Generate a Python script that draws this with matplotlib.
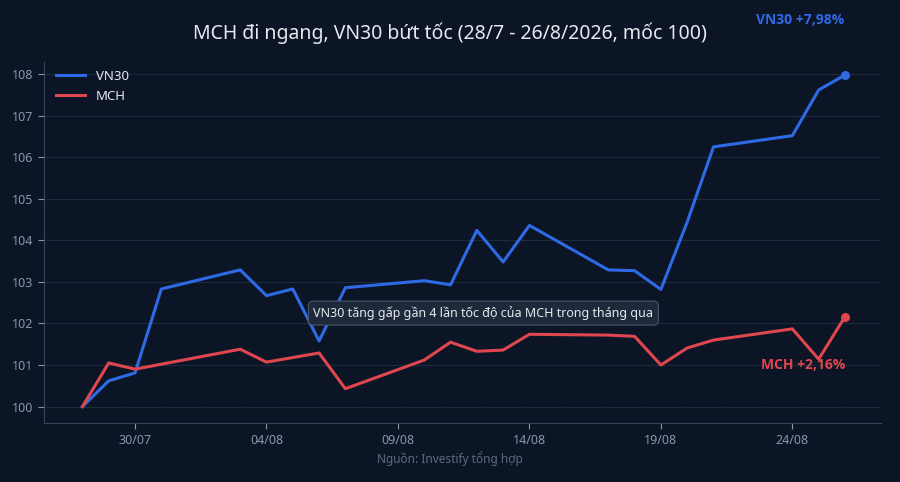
import matplotlib
matplotlib.use("Agg")
import matplotlib.pyplot as plt
import pandas as pd

plt.rcParams['font.family'] = ['Noto Sans', 'DejaVu Sans']

vn_dates = ["2026-07-28","2026-07-29","2026-07-30","2026-07-31","2026-08-03","2026-08-04","2026-08-05",
            "2026-08-06","2026-08-07","2026-08-10","2026-08-11","2026-08-12","2026-08-13","2026-08-14",
            "2026-08-17","2026-08-18","2026-08-19","2026-08-20","2026-08-21","2026-08-24","2026-08-25","2026-08-26"]
vn30 = [100, 100.62, 100.81, 102.83, 103.29, 102.67, 102.83, 101.58, 102.86, 103.03, 102.93, 104.24,
        103.48, 104.36, 103.29, 103.27, 102.82, 104.44, 106.25, 106.52, 107.62, 107.98]
mch_dates = ["2026-07-28","2026-07-29","2026-07-30","2026-08-03","2026-08-04","2026-08-06","2026-08-07",
             "2026-08-10","2026-08-11","2026-08-12","2026-08-13","2026-08-14","2026-08-17","2026-08-18",
             "2026-08-19","2026-08-20","2026-08-21","2026-08-24","2026-08-25","2026-08-26"]
mch = [100, 101.05, 100.9, 101.38, 101.07, 101.29, 100.43, 101.12, 101.55, 101.33, 101.36, 101.74,
       101.72, 101.69, 101.0, 101.41, 101.6, 101.87, 101.14, 102.16]
tick_dates = ["2026-07-30","2026-08-04","2026-08-09","2026-08-14","2026-08-19","2026-08-24"]
tick_labels = ["30/07","04/08","09/08","14/08","19/08","24/08"]

vx = pd.to_datetime(vn_dates); mx = pd.to_datetime(mch_dates)
bg = "#0b1526"; blue = "#2f6ae6"; red = "#e0464e"; tc = "#8a96a8"

fig = plt.figure(figsize=(9, 4.82), dpi=100, facecolor=bg)
ax = fig.add_axes([0.049, 0.122, 0.93, 0.75], facecolor=bg)
ax.plot(vx, vn30, color=blue, lw=2.2, label="VN30")
ax.plot(mx, mch, color=red, lw=2.2, label="MCH")
ax.scatter([vx[-1]], [vn30[-1]], color=blue, s=30, zorder=5)
ax.scatter([mx[-1]], [mch[-1]], color=red, s=30, zorder=5)
ax.axhline(100, color="#3a4659", lw=0.8, ls=(0, (2, 2)), zorder=0)

ax.set_xlim(pd.Timestamp("2026-07-26 13:00"), pd.Timestamp("2026-08-27 09:00"))
ax.set_ylim(99.6, 108.3)
ax.set_yticks(range(100, 109))
ax.set_xticks(pd.to_datetime(tick_dates))
ax.set_xticklabels(tick_labels)
ax.grid(axis='y', color="#1c2a3d", lw=0.8)
ax.tick_params(colors=tc, labelsize=9, length=4)
for s in ["top", "right"]:
    ax.spines[s].set_visible(False)
for s in ["left", "bottom"]:
    ax.spines[s].set_color("#3a4659")

ax.legend(loc="upper left", frameon=False, fontsize=9.5, labelcolor="#e6e9ee", handlelength=2.2,
          bbox_to_anchor=(0.0, 1.01))

fig.text(0.5, 0.92, "MCH đi ngang, VN30 bứt tốc (28/7 - 26/8/2026, mốc 100)", color="#e6e9ee",
         fontsize=14, ha="center")
fig.text(0.938, 0.95, "VN30 +7,98%", color=blue, fontsize=10, fontweight="bold", ha="right",
         family=['Open Sans', 'DejaVu Sans'])
ax.text(pd.Timestamp("2026-08-26"), 101.0, "MCH +2,16%", color=red, fontsize=10, fontweight="bold",
        ha="right", va="center", family=['Open Sans', 'DejaVu Sans'])
ax.text(pd.Timestamp("2026-08-12 06:00"), 102.25, "VN30 tăng gấp gần 4 lần tốc độ của MCH trong tháng qua",
        color="#e6e9ee", fontsize=9, ha="center", va="center",
        bbox=dict(boxstyle="round,pad=0.4", fc="#1e2a3b", ec="#4a5668", lw=0.8))
fig.text(0.5, 0.04, "Nguồn: Investify tổng hợp", color="#5f6b7d", fontsize=8.5, ha="center")

fig.savefig("out.png", dpi=100, facecolor=bg)
